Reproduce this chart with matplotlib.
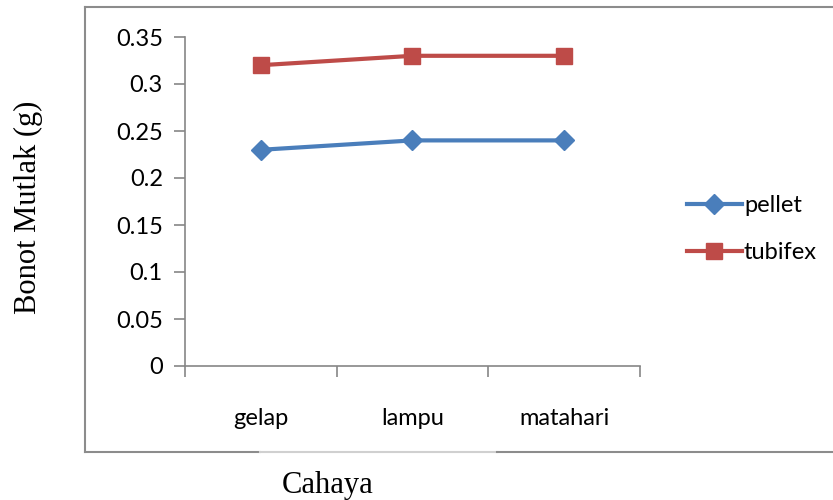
import numpy as np
from matplotlib import pyplot as plt
from matplotlib.lines import Line2D

categories = ['gelap', 'lampu', 'matahari']
pellet = [0.23, 0.24, 0.24]
tubifex = [0.32, 0.33, 0.33]

blue = '#4A7EBB'
red = '#BE4B48'
axis_grey = '#868686'

fig = plt.figure(figsize=(8.33, 5), dpi=100)
W, H = 833, 500

# outer chart border (Excel style), bottom edge lighter under the axis title
fig.add_artist(Line2D([85 / W, 85 / W], [1 - 7 / H, 1 - 452 / H], color='#8c8c8c', lw=1.5))
fig.add_artist(Line2D([85 / W, 1.0], [1 - 7 / H, 1 - 7 / H], color='#8c8c8c', lw=1.5))
fig.add_artist(Line2D([85 / W, 260 / W], [1 - 452 / H, 1 - 452 / H], color='#8c8c8c', lw=1.5))
fig.add_artist(Line2D([260 / W, 497 / W], [1 - 452 / H, 1 - 452 / H], color='#d0d0d0', lw=1.5))
fig.add_artist(Line2D([497 / W, 1.0], [1 - 452 / H, 1 - 452 / H], color='#8c8c8c', lw=1.5))

ax = fig.add_axes([185 / W, 1 - 366 / H, (640 - 185) / W, (366 - 37) / H])

x = np.arange(len(categories))
ax.plot(x, pellet, color=blue, lw=3, marker='D', markersize=10, label='pellet')
ax.plot(x, tubifex, color=red, lw=3, marker='s', markersize=12, label='tubifex')

ax.set_xlim(-0.5, len(categories) - 0.5)
ax.set_ylim(0, 0.35)
ax.set_yticks(np.arange(0, 0.351, 0.05))
ax.set_yticklabels(['0', '0.05', '0.1', '0.15', '0.2', '0.25', '0.3', '0.35'])
ax.set_xticks(x)
ax.set_xticklabels(categories)
ax.set_xticks(np.arange(-0.5, len(categories), 1.0), minor=True)
ax.tick_params(axis='x', which='major', length=0, pad=30, labelsize=17)
ax.tick_params(axis='x', which='minor', length=8, width=1.2, color=axis_grey, direction='out')
ax.tick_params(axis='y', length=8, width=1.2, color=axis_grey, labelsize=17, pad=8)
for lab in ax.get_xticklabels() + ax.get_yticklabels():
    lab.set_family('Lato')

for s in ['top', 'right']:
    ax.spines[s].set_visible(False)
for s in ['left', 'bottom']:
    ax.spines[s].set_color(axis_grey)
    ax.spines[s].set_linewidth(1.2)

ax.legend(loc='center left', bbox_to_anchor=(666 / W, 1 - 229 / H), bbox_transform=fig.transFigure,
          frameon=False, prop={'family': 'Lato', 'size': 17}, handlelength=2.3,
          handletextpad=0.1, labelspacing=1.1)

fig.text(28 / W, 1 - 207 / H, 'Bonot Mutlak (g)', rotation=90, ha='center', va='center',
         family='Liberation Serif', fontsize=22)
fig.text(328 / W, 1 - 485 / H, 'Cahaya', ha='center', va='center',
         family='Liberation Serif', fontsize=22)

plt.savefig('out.png', dpi=100)
